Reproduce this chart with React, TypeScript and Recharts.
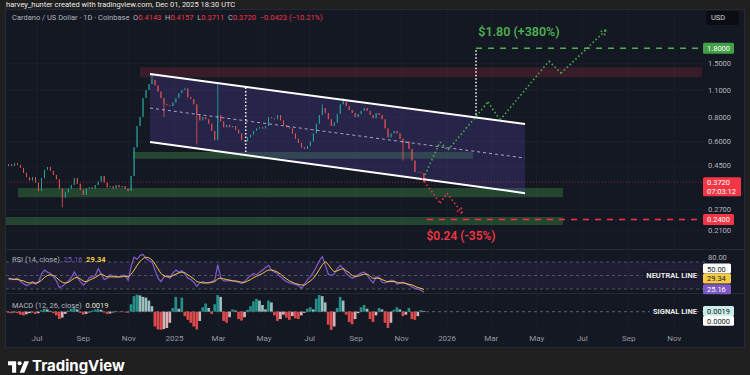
import React from "react";
import {
  ComposedChart,
  Bar,
  Line,
  Area,
  XAxis,
  YAxis,
  CartesianGrid,
  ReferenceLine,
  ReferenceArea,
  ReferenceDot,
} from "recharts";

// day 0 = 1 Jul 2024, one candle every 4 days
const FIRST_DAY = -38;
const STEP = 4;
const FIRST_OPEN = 0.45;

const closes = [
  0.46, 0.45, 0.465, 0.455, 0.44, 0.415, 0.395, 0.38, 0.395, 0.37,
  0.335, 0.39, 0.43, 0.445, 0.425, 0.405, 0.385, 0.345, 0.31, 0.33,
  0.345, 0.36, 0.39, 0.365, 0.34, 0.32, 0.345, 0.35, 0.345, 0.36,
  0.375, 0.4, 0.37, 0.35, 0.355, 0.345, 0.36, 0.35, 0.355, 0.345,
  0.335, 0.4, 0.56, 0.72, 0.8, 1.0, 1.1, 1.18, 1.24, 1.16,
  1.08, 1.0, 0.93, 0.92, 0.91, 0.95, 1.0, 1.06, 1.1, 1.12,
  1.01, 0.99, 0.93, 0.82, 0.77, 0.8, 0.78, 0.74, 0.68, 0.61,
  0.82, 0.76, 0.71, 0.73, 0.71, 0.72, 0.69, 0.66, 0.61, 0.6,
  0.63, 0.65, 0.68, 0.7, 0.71, 0.7, 0.72, 0.8, 0.79, 0.78,
  0.82, 0.77, 0.73, 0.71, 0.7, 0.66, 0.62, 0.59, 0.56, 0.55,
  0.57, 0.6, 0.66, 0.74, 0.82, 0.89, 0.84, 0.78, 0.72, 0.75,
  0.83, 0.93, 0.96, 0.91, 0.87, 0.84, 0.8, 0.83, 0.86, 0.89,
  0.86, 0.82, 0.79, 0.84, 0.82, 0.78, 0.7, 0.63, 0.66, 0.68,
  0.66, 0.62, 0.59, 0.6, 0.55, 0.48, 0.42, 0.42, 0.415, 0.372,
];

// only the wicks that stick out visibly
const wicks = [
  { i: 18, low: 0.277 },
  { i: 48, high: 1.31 },
  { i: 52, low: 0.8 },
  { i: 63, low: 0.58 },
  { i: 70, high: 1.18 },
  { i: 105, high: 0.93 },
  { i: 112, high: 1.0 },
  { i: 132, low: 0.48 },
];

const rsi = [
  46, 44, 45, 46, 41, 38, 35, 37, 41, 37,
  40, 52, 58, 55, 53, 48, 42, 32, 34, 38,
  42, 47, 55, 48, 41, 36, 40, 47, 48, 50,
  60, 52, 44, 46, 51, 49, 48, 48, 50, 50,
  43, 64, 77, 74, 80, 81, 75, 72, 70, 58,
  46, 41, 48, 50, 46, 54, 58, 55, 57, 52,
  46, 44, 40, 34, 39, 41, 39, 40, 41, 43,
  66, 46, 42, 42, 43, 42, 41, 40, 38, 41,
  46, 50, 53, 51, 55, 58, 62, 65, 58, 55,
  53, 48, 44, 41, 39, 38, 37, 35, 31, 37,
  44, 48, 55, 63, 72, 78, 65, 52, 50, 53,
  60, 65, 60, 53, 49, 46, 48, 51, 54, 55,
  51, 44, 39, 48, 47, 40, 39, 41, 43, 42,
  37, 39, 40, 38, 36, 33, 31, 30, 28, 25.16,
];

const rsiMa = [
  45, 45, 44, 44, 43, 42, 40, 39, 39, 39,
  40, 43, 47, 50, 51, 50, 47, 43, 40, 39,
  40, 43, 46, 47, 45, 42, 41, 43, 45, 47,
  50, 52, 50, 48, 48, 48, 48, 48, 48, 49,
  48, 52, 58, 65, 71, 75, 77, 76, 73, 67,
  60, 53, 50, 48, 48, 50, 52, 54, 55, 54,
  51, 48, 45, 41, 40, 39, 39, 39, 40, 41,
  45, 46, 45, 44, 43, 42, 42, 41, 40, 40,
  42, 44, 47, 49, 51, 53, 56, 58, 58, 57,
  55, 52, 48, 45, 42, 40, 38, 37, 36, 36,
  39, 42, 46, 52, 59, 66, 70, 66, 60, 56,
  57, 59, 60, 57, 54, 50, 49, 49, 51, 52,
  52, 49, 46, 46, 46, 44, 42, 41, 41, 41,
  40, 39, 39, 38, 37, 36, 34, 32, 31, 29.34,
];

const macdHist = [
  -0.003, -0.004, -0.002, -0.004, -0.008, -0.01, -0.007, -0.004, -0.002, -0.006,
  -0.004, 0.004, 0.008, 0.006, 0.002, -0.004, -0.01, -0.02, -0.016, -0.006,
  0.003, 0.008, 0.012, 0.006, -0.003, -0.008, -0.006, -0.002, 0.003, 0.006,
  0.008, 0.005, -0.002, -0.006, -0.005, -0.002, 0.001, -0.001, 0.001, -0.002,
  -0.003, 0.02, 0.042, 0.046, 0.044, 0.04, 0.038, 0.03, 0.015, -0.04,
  -0.048, -0.049, -0.047, -0.044, -0.03, 0.01, 0.04, 0.008, 0.038, -0.012,
  -0.022, -0.03, -0.04, -0.048, -0.025, 0.012, 0.022, 0.01, -0.006, 0.02,
  0.045, 0.04, -0.025, -0.03, -0.015, 0.006, 0.003, -0.02, -0.024, -0.015,
  0.005, 0.015, 0.028, 0.035, 0.03, 0.018, 0.006, 0.03, 0.025, -0.01,
  -0.025, -0.02, -0.008, -0.016, -0.022, -0.012, -0.018, -0.02, -0.01, -0.003,
  0.008, 0.012, 0.006, 0.035, 0.045, 0.042, 0.025, -0.035, -0.05, -0.04,
  0.01, 0.04, 0.03, -0.008, -0.028, -0.034, -0.02, -0.004, 0.012, 0.018,
  0.008, -0.02, -0.028, -0.01, 0.01, 0.006, -0.03, -0.044, -0.03, 0.005,
  0.012, 0.006, -0.012, -0.008, 0.01, -0.02, -0.022, -0.012, 0.004, 0.0019,
];

const monthDays = [0, 62, 123, 184, 243, 304, 365, 427, 488, 549, 608, 669, 730, 792, 853];
const monthNames = ["Jul", "Sep", "Nov", "2025", "Mar", "May", "Jul", "Sep", "Nov", "2026", "Mar", "May", "Jul", "Sep", "Nov"];
const priceTicks = [0.21, 0.27, 0.45, 0.6, 0.8, 1.1, 1.5];

const TARGET_UP = 1.8;
const TARGET_DOWN = 0.24;
const LAST = 0.372;

// drawings (day, price)
const channelStart = { d: 151.3, top: 1.328, mid: 0.89, bottom: 0.597 };
const channelEnd = { d: 653.3, top: 0.737, mid: 0.494, bottom: 0.327 };
const redZone = { d1: 138, d2: 890, lo: 1.28, hi: 1.44 };
const greenZones = [
  { d1: 128.5, d2: 583.7, lo: 0.49, hi: 0.53 },
  { d1: -25.4, d2: 704, lo: 0.312, hi: 0.347 },
  { d1: -41.5, d2: 704, lo: 0.225, hi: 0.247 },
];
const bullPath = [
  [519.4, 0.405], [539.5, 0.597], [550.2, 0.543], [603.7, 0.955],
  [619.8, 0.773], [685.4, 1.547], [701.5, 1.34], [761.7, 2.23],
];
const bullArrow = [[752.3, 2.18], [759.0, 2.06]];
const bearPath = [[515.4, 0.39], [539.5, 0.291], [548.9, 0.327], [568.9, 0.259]];
const bearArrow = [[567.6, 0.281], [560.4, 0.267]];
const measureLines = [
  { d: 279.4, lo: 0.53, hi: 1.14 },
  { d: 587.7, lo: 0.79, hi: TARGET_UP },
];

const X_DOMAIN: [number, number] = [-41.5, 894.2];
const CHART_W = 739;
const AXIS_W = 40;
const UP = "#26a69a";
const DOWN = "#ef5350";
const AXIS_TEXT = "#b2b5be";
const GRID = "#1b1f2b";
const GREEN = "#4caf50";
const RED = "#f23645";

const candles = closes.map((c, i) => {
  const o = i === 0 ? FIRST_OPEN : closes[i - 1];
  const w: any = wicks.find((k) => k.i === i) || {};
  const hi = Math.max(o, c, w.high ?? 0);
  const lo = Math.min(o, c, w.low ?? Infinity);
  const h = macdHist[i];
  const prev = i === 0 ? 0 : macdHist[i - 1];
  const histColor = h >= 0 ? (h >= prev ? UP : "#b2dfdb") : h <= prev ? "#ff5252" : "#ffcdd2";
  return { d: FIRST_DAY + i * STEP, o, c, range: [lo, hi], rsi: rsi[i], rsiMa: rsiMa[i], hist: h, histColor };
});

const priceRows: any[] = [
  ...candles,
  { d: channelStart.d, chan: [channelStart.bottom, channelStart.top] },
  { d: channelEnd.d, chan: [channelEnd.bottom, channelEnd.top] },
].sort((a, b) => a.d - b.d);

function Candle(props: any) {
  const { x, y, width, height, payload } = props;
  if (!payload || payload.o == null || x == null) return null;
  const top = Math.min(y, y + height);
  const h = Math.abs(height);
  const [lo, hi] = payload.range;
  const span = Math.log(hi) - Math.log(lo);
  const at = (p: number) => (span > 0 ? top + (h * (Math.log(hi) - Math.log(p))) / span : top);
  const color = payload.c >= payload.o ? UP : DOWN;
  const bt = at(Math.max(payload.o, payload.c));
  const bb = at(Math.min(payload.o, payload.c));
  const cx = x + width / 2;
  return (
    <g>
      <line x1={cx} x2={cx} y1={top} y2={top + h} stroke={color} strokeWidth={0.8} />
      <rect x={x} y={bt} width={width} height={Math.max(1, bb - bt)} fill={color} fillOpacity={0.9} />
    </g>
  );
}

function HistBar(props: any) {
  const { x, y, width, height, payload } = props;
  if (x == null || !payload) return null;
  return <rect x={x} y={Math.min(y, y + height)} width={width} height={Math.max(0.5, Math.abs(height))} fill={payload.histColor} fillOpacity={0.85} />;
}

function Box({ x, y, w, h, bg, fg, lines }: any) {
  return (
    <g>
      <rect x={x} y={y} width={w} height={h} fill={bg} rx={1.5} />
      {lines.map((t: string, k: number) => (
        <text key={k} x={x + 4} y={y + 8 + k * 9} fontSize={7.5} fill={fg}>
          {t}
        </text>
      ))}
    </g>
  );
}

function PriceTick(props: any) {
  const { x, y, payload } = props;
  const v = payload.value;
  if (v === TARGET_UP) return <Box x={x - 2} y={y - 5.5} w={31} h={11} bg="#43a047" fg="#fff" lines={["1.8000"]} />;
  if (v === TARGET_DOWN) return <Box x={x - 2} y={y - 5.5} w={31} h={11} bg={RED} fg="#fff" lines={["0.2400"]} />;
  if (v === LAST) return <Box x={x - 2} y={y - 5} w={38} h={19} bg={RED} fg="#fff" lines={["0.3720", "07:03:12"]} />;
  return (
    <text x={x + 3} y={y + 2.5} fontSize={7.5} fill={AXIS_TEXT}>
      {v.toFixed(4)}
    </text>
  );
}

const rsiBoxes: Record<string, any> = {
  "50": { dy: -7, bg: "#ffffff", fg: "#131722", t: "50.00" },
  "29.34": { dy: -11, bg: "#f7c948", fg: "#131722", t: "29.34" },
  "25.16": { dy: -3, bg: "#7e57c2", fg: "#fff", t: "25.16" },
};

function RsiTick(props: any) {
  const { x, y, payload } = props;
  const b = rsiBoxes[String(payload.value)];
  if (!b)
    return (
      <text x={x + 3} y={y + 5} fontSize={7.5} fill={AXIS_TEXT}>
        80.00
      </text>
    );
  return <Box x={x - 2} y={y + b.dy - 5} w={28} h={10} bg={b.bg} fg={b.fg} lines={[b.t]} />;
}

function MacdTick(props: any) {
  const { x, y, payload } = props;
  if (payload.value === 0) return <Box x={x - 2} y={y + 4} w={31} h={10} bg="#ffffff" fg="#131722" lines={["0.0000"]} />;
  return <Box x={x - 2} y={y - 5} w={31} h={10} bg="#c8ece6" fg="#131722" lines={["0.0019"]} />;
}

function seg(path: number[][], key: string, color: string) {
  return path.slice(1).map((p, k) => (
    <ReferenceLine
      key={key + k}
      segment={[{ x: path[k][0], y: path[k][1] }, { x: p[0], y: p[1] }]}
      stroke={color}
      strokeWidth={1.6}
      strokeDasharray="1.5 2.5"
      ifOverflow="visible"
    />
  ));
}

function PriceChart() {
  return (
    <ComposedChart width={CHART_W} height={240} data={priceRows} margin={{ top: 0, right: 0, bottom: 0, left: 0 }}>
      <CartesianGrid stroke={GRID} horizontalValues={priceTicks} verticalValues={monthDays} />
      <XAxis type="number" dataKey="d" domain={X_DOMAIN} ticks={monthDays} hide allowDataOverflow />
      <YAxis
        orientation="right"
        scale="log"
        domain={[0.1675, 2.82]}
        allowDataOverflow
        ticks={[0.21, TARGET_DOWN, 0.27, LAST, 0.45, 0.6, 0.8, 1.1, 1.5, TARGET_UP]}
        interval={0}
        tick={PriceTick}
        tickSize={0}
        tickMargin={0}
        width={AXIS_W}
        axisLine={false}
        tickLine={false}
      />
      <ReferenceArea x1={redZone.d1} x2={redZone.d2} y1={redZone.lo} y2={redZone.hi} fill={RED} fillOpacity={0.17} stroke="none" />
      {greenZones.map((z, k) => (
        <ReferenceArea key={k} x1={z.d1} x2={z.d2} y1={z.lo} y2={z.hi} fill={GREEN} fillOpacity={0.3} stroke="none" />
      ))}
      <Area dataKey="chan" type="linear" stroke="none" fill="#5e4bb8" fillOpacity={0.26} connectNulls isAnimationActive={false} />
      <ReferenceLine y={LAST} stroke={RED} strokeOpacity={0.5} strokeDasharray="1 2" />
      <Bar dataKey="range" barSize={2} shape={Candle} isAnimationActive={false} />
      <ReferenceLine
        segment={[{ x: channelStart.d, y: channelStart.top }, { x: channelEnd.d, y: channelEnd.top }]}
        stroke="#ffffff"
        strokeWidth={2}
      />
      <ReferenceLine
        segment={[{ x: channelStart.d, y: channelStart.bottom }, { x: channelEnd.d, y: channelEnd.bottom }]}
        stroke="#ffffff"
        strokeWidth={2}
      />
      <ReferenceLine
        segment={[{ x: channelStart.d, y: channelStart.mid }, { x: channelEnd.d, y: channelEnd.mid }]}
        stroke="#c9c6e6"
        strokeOpacity={0.8}
        strokeDasharray="3 3"
      />
      {measureLines.map((m, k) => (
        <ReferenceLine key={"m" + k} segment={[{ x: m.d, y: m.lo }, { x: m.d, y: m.hi }]} stroke="#ffffff" strokeWidth={1.5} strokeDasharray="1.5 2" />
      ))}
      <ReferenceLine segment={[{ x: 587.7, y: TARGET_UP }, { x: 894.2, y: TARGET_UP }]} stroke={GREEN} strokeWidth={1.5} strokeDasharray="6 6" />
      <ReferenceLine segment={[{ x: 522, y: TARGET_DOWN }, { x: 894.2, y: TARGET_DOWN }]} stroke={RED} strokeWidth={1.5} strokeDasharray="6 6" />
      {seg(bullPath, "b", GREEN)}
      {bullArrow.map((a, k) => seg([bullPath[bullPath.length - 1], a], "ba" + k, GREEN))}
      {seg(bearPath, "r", RED)}
      {bearArrow.map((a, k) => seg([bearPath[bearPath.length - 1], a], "ra" + k, RED))}
      <ReferenceDot
        x={645.2}
        y={2.176}
        r={1}
        fill="none"
        stroke="none"
        label={{ value: "$1.80 (+380%)", position: "center", fill: GREEN, fontSize: 12.5, fontWeight: 600 }}
      />
      <ReferenceDot
        x={567.6}
        y={0.1975}
        r={1}
        fill="none"
        stroke="none"
        label={{ value: "$0.24 (-35%)", position: "center", fill: RED, fontSize: 12, fontWeight: 600 }}
      />
    </ComposedChart>
  );
}

function RsiChart() {
  return (
    <ComposedChart width={CHART_W} height={43} data={candles} margin={{ top: 0, right: 0, bottom: 0, left: 0 }}>
      <CartesianGrid stroke={GRID} horizontal={false} verticalValues={monthDays} />
      <XAxis type="number" dataKey="d" domain={X_DOMAIN} ticks={monthDays} hide allowDataOverflow />
      <YAxis
        orientation="right"
        domain={[24.1, 87.8]}
        allowDataOverflow
        ticks={[80, 50, 29.34, 25.16]}
        interval={0}
        tick={RsiTick}
        tickSize={0}
        tickMargin={0}
        width={AXIS_W}
        axisLine={false}
        tickLine={false}
      />
      <ReferenceArea y1={30} y2={70} fill="#7e57c2" fillOpacity={0.1} stroke="none" />
      <ReferenceLine y={70} stroke="#787b86" strokeOpacity={0.6} strokeDasharray="3 3" />
      <ReferenceLine y={50} stroke="#787b86" strokeOpacity={0.6} strokeDasharray="3 3" />
      <ReferenceLine y={30} stroke="#787b86" strokeOpacity={0.6} strokeDasharray="3 3" />
      <Line dataKey="rsi" type="linear" stroke="#7e57c2" strokeWidth={1.3} dot={false} isAnimationActive={false} />
      <Line dataKey="rsiMa" type="monotone" stroke="#f7c948" strokeWidth={1} dot={false} isAnimationActive={false} />
    </ComposedChart>
  );
}

function MacdChart() {
  return (
    <ComposedChart width={CHART_W} height={54} data={candles} margin={{ top: 0, right: 0, bottom: 0, left: 0 }}>
      <CartesianGrid stroke={GRID} horizontal={false} verticalValues={monthDays} />
      <XAxis
        type="number"
        dataKey="d"
        domain={X_DOMAIN}
        allowDataOverflow
        ticks={monthDays}
        interval={0}
        height={17}
        axisLine={false}
        tickLine={false}
        tickSize={4}
        tickMargin={1}
        tick={{ fill: "#9598a1", fontSize: 8 }}
        tickFormatter={(v: number) => monthNames[monthDays.indexOf(v)]}
      />
      <YAxis
        orientation="right"
        domain={[-0.0495, 0.0505]}
        allowDataOverflow
        ticks={[0.0019, 0]}
        interval={0}
        tick={MacdTick}
        tickSize={0}
        tickMargin={0}
        width={AXIS_W}
        axisLine={false}
        tickLine={false}
      />
      <ReferenceLine y={0} stroke="#787b86" strokeOpacity={0.7} strokeDasharray="3 3" />
      <Bar dataKey="hist" barSize={3} shape={HistBar} isAnimationActive={false} />
    </ComposedChart>
  );
}

export default function App() {
  const abs = (l: number, t: number): React.CSSProperties => ({ position: "absolute", left: l, top: t });
  return (
    <div
      style={{
        position: "absolute",
        left: 0,
        top: 0,
        width: 750,
        height: 375,
        overflow: "hidden",
        background: "#1f1f1f",
        fontFamily: "Roboto, 'Noto Sans', sans-serif",
      }}
    >
      <style>{`.recharts-surface{overflow:visible}`}</style>
      <div style={{ ...abs(6, 0), fontSize: 7.5, lineHeight: "9px", color: "#e8e8e8", whiteSpace: "nowrap" }}>
        harvey_hunter created with tradingview.com, Dec 01, 2025 18:30 UTC
      </div>
      <div style={{ ...abs(5, 9), width: 740, height: 339, background: "#141823", border: "1px solid #262a36", boxSizing: "border-box" }} />
      <div style={{ ...abs(6, 249), width: 738, height: 1, background: "#262a36" }} />
      <div style={{ ...abs(6, 293), width: 738, height: 1, background: "#262a36" }} />

      <div style={abs(6, 10)}>
        <PriceChart />
      </div>
      <div style={abs(6, 250)}>
        <RsiChart />
      </div>
      <div style={abs(6, 293)}>
        <MacdChart />
      </div>

      <div style={{ ...abs(12, 13), fontSize: 7.5, color: AXIS_TEXT, whiteSpace: "nowrap" }}>
        Cardano / US Dollar · 1D · Coinbase&nbsp;&nbsp;O<span style={{ color: RED }}>0.4143</span>&nbsp;&nbsp;H
        <span style={{ color: RED }}>0.4157</span>&nbsp;&nbsp;L<span style={{ color: RED }}>0.3711</span>&nbsp;&nbsp;C
        <span style={{ color: RED }}>0.3720</span>&nbsp;&nbsp;<span style={{ color: RED }}>−0.0423 (−10.21%)</span>
      </div>
      <div
        style={{
          ...abs(706, 11),
          width: 33,
          height: 14,
          background: "#0b0d12",
          borderRadius: 2,
          color: "#d1d4dc",
          fontSize: 7.5,
          lineHeight: "14px",
          textIndent: 5,
        }}
      >
        USD
      </div>
      <div style={{ ...abs(12, 255), fontSize: 7.5, color: AXIS_TEXT, whiteSpace: "nowrap" }}>
        RSI (14, close)&nbsp;&nbsp;<span style={{ color: "#7e57c2" }}>25.16</span>&nbsp;&nbsp;
        <span style={{ color: "#f7c948", fontWeight: 700 }}>29.34</span>
      </div>
      <div style={{ ...abs(12, 301), fontSize: 7.5, color: AXIS_TEXT, whiteSpace: "nowrap" }}>
        MACD (12, 26, close)&nbsp;&nbsp;<span style={{ color: "#e8e6c8" }}>0.0019</span>
      </div>
      <div style={{ position: "absolute", right: 53, top: 271, fontSize: 7.5, fontWeight: 700, color: "#e8e8e8", background: "#17192a", paddingLeft: 3 }}>
        NEUTRAL LINE
      </div>
      <div style={{ position: "absolute", right: 53, top: 307, fontSize: 7.5, fontWeight: 700, color: "#e8e8e8", background: "#141823", paddingLeft: 3 }}>
        SIGNAL LINE
      </div>

      <svg width="21" height="12" viewBox="0 0 36 20" style={abs(8, 361)}>
        <path d="M0 0h14v20H7V7H0z" fill="#fff" />
        <circle cx="20" cy="3.5" r="3.5" fill="#fff" />
        <path d="M28 0h8l-8 20h-8z" fill="#fff" />
      </svg>
      <div style={{ ...abs(32, 356), fontSize: 15, fontWeight: 700, color: "#fff", fontFamily: "Inter, Roboto, sans-serif" }}>TradingView</div>
    </div>
  );
}
